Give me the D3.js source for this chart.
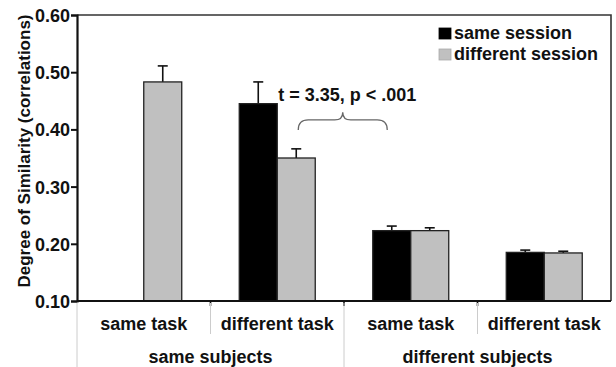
<!DOCTYPE html>
<html>
<head>
<meta charset="utf-8">
<script src="https://cdn.jsdelivr.net/npm/d3@7"></script>
<style>
  body { margin: 0; background: #fff; }
  svg { display: block; font-family: "Liberation Sans", Arial, sans-serif; font-weight: bold; }
</style>
</head>
<body>
<script>
(function () {

    //chart data
    var tasks = ["same task", "different task", "same task", "different task"];
    var subjects = ["same subjects", "different subjects"];
    var seriesNames = ["same session", "different session"];
    var sameSession = [null, 0.445, 0.223, 0.185];
    var sameSessionErr = [null, 0.038, 0.008, 0.004];
    var diffSession = [0.483, 0.350, 0.223, 0.184];
    var diffSessionErr = [0.028, 0.016, 0.005, 0.003];
    var yTicks = [0.10, 0.20, 0.30, 0.40, 0.50, 0.60];

    var width = 616, height = 367;
    var margin = {top: 15, right: 5, bottom: 66, left: 77};
    var innerW = width - margin.left - margin.right,
        innerH = height - margin.top - margin.bottom;

    var svg = d3.select("body").append("svg")
        .attr("width", width)
        .attr("height", height);

    var g = svg.append("g")
        .attr("transform", "translate(" + margin.left + "," + margin.top + ")");

    //scales
    var x0 = d3.scaleBand()
        .domain(d3.range(tasks.length))
        .range([0, innerW]);

    var x1 = d3.scaleBand()
        .domain(seriesNames)
        .range([0, x0.bandwidth()])
        .paddingInner(0)
        .paddingOuter(0.757);

    var y = d3.scaleLinear()
        .domain([0.10, 0.60])
        .range([innerH, 0]);

    var colors = {"same session": "#000000", "different session": "#c0c0c0"};

    //build rows
    var rows = [];
    for (var i = 0; i < tasks.length; i++) {
        rows.push({i: i, s: "same session", v: sameSession[i], e: sameSessionErr[i]});
        rows.push({i: i, s: "different session", v: diffSession[i], e: diffSessionErr[i]});
    }
    rows = rows.filter(function (d) { return d.v != null; });

    //error bars (drawn under bars)
    var err = g.selectAll(".err")
        .data(rows)
        .enter()
        .append("g")
        .attr("class", "err")
        .attr("stroke", "#111")
        .attr("stroke-width", 1.6);

    err.append("line")
        .attr("x1", function (d) { return x0(d.i) + x1(d.s) + x1.bandwidth() / 2; })
        .attr("x2", function (d) { return x0(d.i) + x1(d.s) + x1.bandwidth() / 2; })
        .attr("y1", function (d) { return y(d.v); })
        .attr("y2", function (d) { return y(d.v + d.e); });

    err.append("line")
        .attr("x1", function (d) { return x0(d.i) + x1(d.s) + x1.bandwidth() / 2 - 5; })
        .attr("x2", function (d) { return x0(d.i) + x1(d.s) + x1.bandwidth() / 2 + 5; })
        .attr("y1", function (d) { return y(d.v + d.e); })
        .attr("y2", function (d) { return y(d.v + d.e); });

    //bars
    g.selectAll(".bar")
        .data(rows)
        .enter()
        .append("rect")
        .attr("class", "bar")
        .attr("x", function (d) { return x0(d.i) + x1(d.s); })
        .attr("width", x1.bandwidth())
        .attr("y", function (d) { return y(d.v); })
        .attr("height", function (d) { return innerH - y(d.v); })
        .attr("fill", function (d) { return colors[d.s]; })
        .attr("stroke", "#222")
        .attr("stroke-width", 1.3);

    //frame (top and right)
    g.append("path")
        .attr("d", "M0,0H" + innerW + "V" + innerH)
        .attr("fill", "none")
        .attr("stroke", "#333")
        .attr("stroke-width", 1.6);

    //y axis
    var yAxis = d3.axisLeft(y)
        .tickValues(yTicks)
        .tickFormat(d3.format(".2f"))
        .tickSize(6)
        .tickPadding(1);

    var ya = g.append("g")
        .attr("class", "axis")
        .call(yAxis);
    ya.attr("font-family", null).attr("font-size", null);
    ya.select(".domain").attr("stroke", "#111").attr("stroke-width", 2.2);
    ya.selectAll(".tick line").attr("stroke", "#111").attr("stroke-width", 2);
    ya.selectAll(".tick text")
        .attr("dy", "0.36em")
        .attr("fill", "#111")
        .style("font-size", "18px");

    //bottom axis line
    g.append("line")
        .attr("x1", 0).attr("x2", innerW)
        .attr("y1", innerH).attr("y2", innerH)
        .attr("stroke", "#111")
        .attr("stroke-width", 2.2);

    //category separators and ticks
    var seps = d3.range(1, tasks.length);
    g.selectAll(".sepTick")
        .data(seps)
        .enter()
        .append("line")
        .attr("x1", function (d) { return x0(d); })
        .attr("x2", function (d) { return x0(d); })
        .attr("y1", innerH)
        .attr("y2", innerH + 5)
        .attr("stroke", "#111")
        .attr("stroke-width", 1.6);

    g.selectAll(".sepLine")
        .data(d3.range(0, tasks.length))
        .enter()
        .append("line")
        .attr("x1", function (d) { return x0(d); })
        .attr("x2", function (d) { return x0(d); })
        .attr("y1", innerH + 2)
        .attr("y2", function (d) { return d % 2 === 0 ? height - margin.top : innerH + 33; })
        .attr("stroke", "#ccc")
        .attr("stroke-width", 1);

    //task labels
    g.selectAll(".taskLabel")
        .data(tasks)
        .enter()
        .append("text")
        .attr("x", function (d, i) { return x0(i) + x0.bandwidth() / 2; })
        .attr("y", innerH + 29)
        .attr("text-anchor", "middle")
        .style("font-size", "18px")
        .attr("fill", "#111")
        .text(function (d) { return d; });

    //subject labels
    g.selectAll(".subjLabel")
        .data(subjects)
        .enter()
        .append("text")
        .attr("x", function (d, i) { return x0(i * 2) + x0.bandwidth(); })
        .attr("y", innerH + 62)
        .attr("text-anchor", "middle")
        .style("font-size", "18px")
        .attr("fill", "#111")
        .text(function (d) { return d; });

    //y axis title
    svg.append("text")
        .attr("transform", "translate(30," + (margin.top + innerH / 2 - 7) + ") rotate(-90)")
        .attr("text-anchor", "middle")
        .style("font-size", "17px")
        .attr("fill", "#111")
        .text("Degree of Similarity (correlations)");

    //legend
    var legend = svg.append("g")
        .attr("transform", "translate(439,26)");
    var li = legend.selectAll(".li")
        .data(seriesNames)
        .enter()
        .append("g")
        .attr("transform", function (d, i) { return "translate(0," + (i * 21) + ")"; });
    li.append("rect")
        .attr("width", 12)
        .attr("height", 11)
        .attr("y", 2)
        .attr("fill", function (d) { return colors[d]; })
        .attr("stroke", function (d, i) { return i ? "#aaa" : "#000"; })
        .attr("stroke-width", 0.8);
    li.append("text")
        .attr("x", 15)
        .attr("y", 13)
        .style("font-size", "18px")
        .attr("fill", "#111")
        .text(function (d) { return d; });

    //annotation brace between the two "different task" bars
    var bx = x0(1) + x1("different session") + x1.bandwidth() / 2 + 2;
    var bx2 = bx + 89, bm = (bx + bx2) / 2;
    var by = y(0.399), bt = y(0.430), bh = by - 10;
    g.append("path")
        .attr("d", "M" + bx + "," + by + "Q" + bx + "," + bh + " " + (bx + 10) + "," + bh +
            "L" + (bm - 8) + "," + bh + "Q" + bm + "," + bh + " " + bm + "," + bt +
            "Q" + bm + "," + bh + " " + (bm + 8) + "," + bh +
            "L" + (bx2 - 10) + "," + bh + "Q" + bx2 + "," + bh + " " + bx2 + "," + by)
        .attr("fill", "none")
        .attr("stroke", "#666")
        .attr("stroke-width", 1.3);

    g.append("text")
        .attr("x", x0(1) + x1("same session") + x1.bandwidth() + 1)
        .attr("y", y(0.449))
        .style("font-size", "18px")
        .attr("fill", "#111")
        .text("t = 3.35, p < .001");

})();
</script>
</body>
</html>
